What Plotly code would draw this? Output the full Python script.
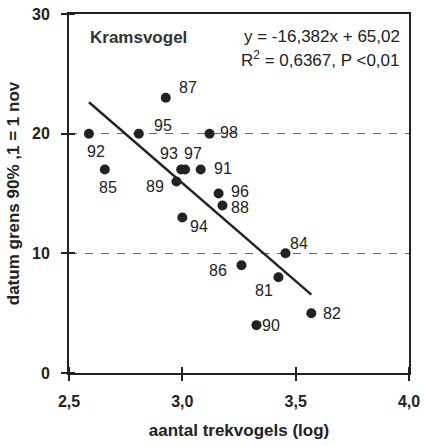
import plotly.graph_objects as go

years = ["92", "95", "87", "98", "85", "93", "97", "91", "89", "96", "88", "94", "84", "86", "81", "90", "82"]
x_log = [2.588, 2.808, 2.927, 3.12, 2.658, 2.995, 3.012, 3.081, 2.974, 3.16, 3.177, 3.0, 3.455, 3.261, 3.424, 3.327, 3.569]
y_date = [20, 20, 23, 20, 17, 17, 17, 17, 16, 15, 14, 13, 10, 9, 8, 4, 5]
# label offsets (pixels) relative to each point
lab_dx = [7, 24, 22, 19, 3, -12, 8, 22, -21, 21, 18, 17, 14, -23, -14, 15, 21]
lab_dy = [-18, 8, 10, 1, -18, 16, 16, 1, -5, 2, -2, -9, 10, -5, -13, 0, 0]

slope = -16.382
intercept = 65.02
x_line = [min(x_log), max(x_log)]
y_line = [slope * v + intercept for v in x_line]

x_ticks = [2.5, 3.0, 3.5, 4.0]
y_ticks = [0, 10, 20, 30]
x_range = [2.5, 4.0]
y_range = [0, 30]

font_family = "Liberation Sans, Arial, sans-serif"
ink = "#222222"

fig = go.Figure()
fig.add_trace(go.Scatter(x=x_line, y=y_line, mode="lines",
                         line=dict(color=ink, width=2.4), hoverinfo="skip"))
fig.add_trace(go.Scatter(x=x_log, y=y_date, mode="markers",
                         marker=dict(color=ink, size=10), hoverinfo="skip"))

for yr, xv, yv, dx, dy in zip(years, x_log, y_date, lab_dx, lab_dy):
    fig.add_annotation(x=xv, y=yv, text=yr, showarrow=False, xshift=dx, yshift=dy,
                       font=dict(family=font_family, size=16, color=ink))

fig.add_annotation(xref="paper", yref="paper", x=0.056, y=0.934, xanchor="left", yanchor="middle",
                   text="<b>Kramsvogel</b>", showarrow=False,
                   font=dict(family=font_family, size=17, color="#333333"))
fig.add_annotation(xref="paper", yref="paper", x=0.979, y=0.937, xanchor="right", yanchor="middle",
                   text="y = -16,382x + 65,02", showarrow=False,
                   font=dict(family=font_family, size=17, color=ink))
fig.add_annotation(xref="paper", yref="paper", x=0.979, y=0.874, xanchor="right", yanchor="middle",
                   text="R<sup>2</sup> = 0,6367, P <0,01", showarrow=False,
                   font=dict(family=font_family, size=17, color=ink))

tick_font = dict(family=font_family, size=16, color=ink, weight="bold")
title_font = dict(family=font_family, size=17, color=ink)
# inner half of the crossing tick marks (tiny offset so they are not merged with major ticks)
eps = 1e-6

fig.update_layout(
    width=424, height=446,
    margin=dict(l=69, r=15, t=14, b=73),
    paper_bgcolor="white", plot_bgcolor="white",
    showlegend=False,
    separators=",.",
    font=dict(family=font_family, color=ink),
    xaxis=dict(range=x_range, tickvals=x_ticks, tickformat=".1f", automargin=False,
               showgrid=False, zeroline=False,
               showline=True, linecolor=ink, linewidth=2, mirror=True,
               ticks="outside", ticklen=6, tickwidth=2, tickcolor=ink,
               minor=dict(tickvals=[v + eps for v in x_ticks], ticks="inside", ticklen=6,
                          tickwidth=2, tickcolor=ink, showgrid=False),
               ticklabelstandoff=7,
               tickfont=tick_font,
               title=dict(text="<b>aantal trekvogels (log)</b>", font=title_font, standoff=15)),
    yaxis=dict(range=y_range, tickvals=y_ticks, automargin=False,
               showgrid=True, gridcolor="#666666", griddash="8px,8px", gridwidth=1,
               zeroline=False,
               showline=True, linecolor=ink, linewidth=2, mirror=True,
               ticks="outside", ticklen=6, tickwidth=2, tickcolor=ink,
               minor=dict(tickvals=[v + eps for v in y_ticks], ticks="inside", ticklen=6,
                          tickwidth=2, tickcolor=ink, showgrid=False),
               ticklabelstandoff=8,
               tickfont=tick_font,
               title=dict(text="<b>datum grens 90% ,1 = 1 nov</b>", font=title_font, standoff=8)),
)

fig.write_html("out.html", config={"displayModeBar": False},
               post_script="document.body.style.margin='0px';")
